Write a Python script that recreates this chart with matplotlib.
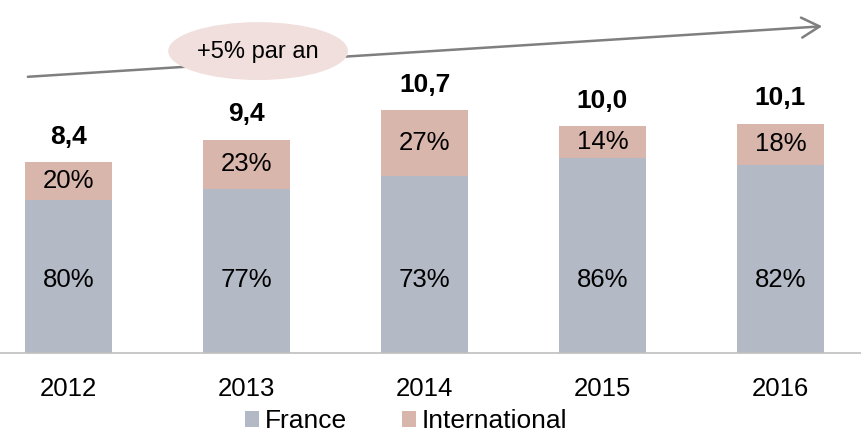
import matplotlib.pyplot as plt
from matplotlib.patches import Ellipse

plt.rcParams['font.family'] = ['Liberation Sans', 'DejaVu Sans']

years = ['2012', '2013', '2014', '2015', '2016']
totals = [8.4, 9.4, 10.7, 10.0, 10.1]
france_pct = [80, 77, 73, 86, 82]
intl_pct = [20, 23, 27, 14, 18]
total_labels = ['8,4', '9,4', '10,7', '10,0', '10,1']
growth_text = '+5% par an'

c_france = '#b3bac5'
c_intl = '#d9b6ac'

fig = plt.figure(figsize=(8.62, 4.33), dpi=100)
ax = fig.add_axes([0, 80 / 433, 1, 353 / 433])

x = list(range(len(years)))
france = [t * p / 100 for t, p in zip(totals, france_pct)]
intl = [t * p / 100 for t, p in zip(totals, intl_pct)]

w = 0.494
ax.bar(x, france, width=w, color=c_france, label='France')
ax.bar(x, intl, width=w, bottom=france, color=c_intl, label='International')

fs = 18.5
for i in x:
    # france labels sit low in the bar, roughly the same height each year
    ax.text(i, min(france[i] / 2, 3.2), f'{france_pct[i]}%', ha='center', va='center', fontsize=fs)
    ax.text(i, france[i] + intl[i] / 2, f'{intl_pct[i]}%', ha='center', va='center', fontsize=fs)
    ax.text(i, totals[i] + 1.12, total_labels[i], ha='center', va='center',
            fontsize=19, fontweight='bold')

ax.set_xlim(-0.385, 4.458)
ax.set_ylim(0, 15.55)

# growth arrow + bubble
ax.annotate('', xy=(4.25, 14.4), xytext=(-0.244, 12.16),
            arrowprops=dict(arrowstyle='->,head_length=1.3,head_width=0.72',
                            color='#7f7f7f', lw=1.8))
ax.add_patch(Ellipse((1.065, 13.3), 1.01, 2.55, facecolor='#f0dfdc',
                     edgecolor='none', zorder=3))
ax.text(1.065, 13.25, growth_text, ha='center', va='center', fontsize=17, zorder=4)

ax.set_xticks(x)
ax.set_xticklabels(years, fontsize=fs)
ax.tick_params(axis='x', length=0, pad=17)
ax.set_yticks([])
for s in ['top', 'left', 'right']:
    ax.spines[s].set_visible(False)
ax.spines['bottom'].set_color('#bfbfbf')
ax.spines['bottom'].set_linewidth(1.2)

fig.legend(loc='center', bbox_to_anchor=(0.471, 0.027), ncol=2, frameon=False,
           fontsize=19, handlelength=0.53, handleheight=0.53, handletextpad=0.2,
           columnspacing=2.1, borderpad=0)

fig.savefig('out.png', dpi=100)
